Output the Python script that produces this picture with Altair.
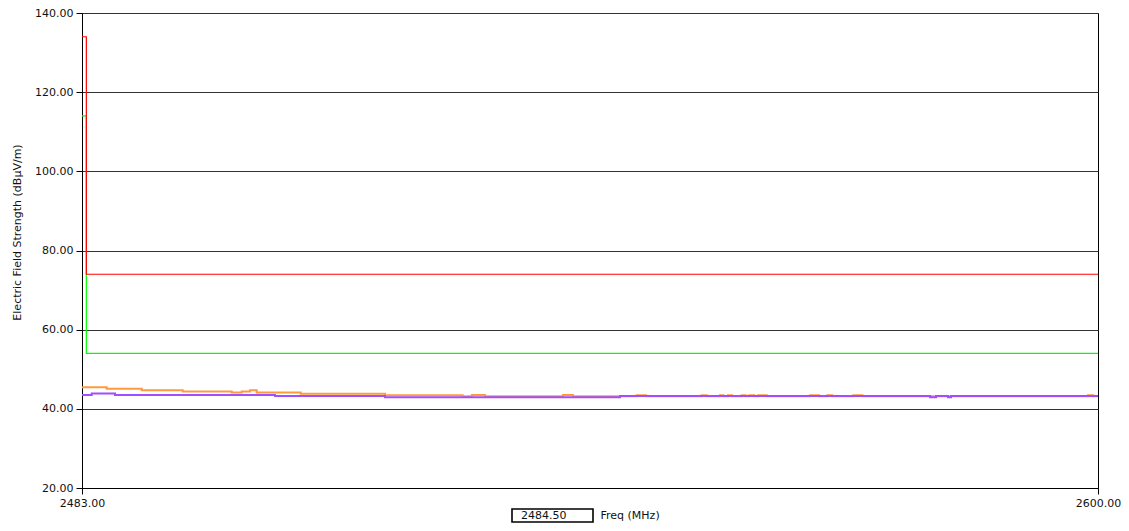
import altair as alt
import pandas as pd

# ---- data ----
freq_domain = [2483.0, 2600.0]
x_tick_values = [2483.0, 2600.0]
y_tick_values = [20, 40, 60, 80, 100, 120, 140]

peak_limit_freq = [2483.0, 2483.5, 2600.0]
peak_limit_val = [134.0, 74.0, 74.0]

avg_limit_freq = [2483.0, 2483.5, 2600.0]
avg_limit_val = [114.0, 54.0, 54.0]

peak_freq = [2483.00, 2485.84, 2489.88, 2494.60, 2500.24, 2501.39, 2502.35, 2503.12,
             2508.19, 2517.89, 2526.84, 2527.91, 2529.41, 2538.39, 2539.54, 2544.96,
             2546.88, 2547.95, 2554.36, 2554.94, 2556.47, 2556.85, 2557.39, 2557.85,
             2558.97, 2559.43, 2559.85, 2560.42, 2560.88, 2561.85, 2566.84, 2567.87,
             2568.83, 2569.40, 2571.82, 2572.86, 2598.85, 2599.43, 2600.00]
peak_val = [45.45, 45.1, 44.7, 44.4, 44.15, 44.4, 44.7, 44.1,
            43.8, 43.45, 43.2, 43.5, 43.2, 43.5, 43.2, 43.2,
            43.45, 43.2, 43.45, 43.2, 43.45, 43.2, 43.45, 43.2,
            43.45, 43.2, 43.45, 43.2, 43.45, 43.2, 43.45, 43.2,
            43.45, 43.2, 43.45, 43.2, 43.45, 43.2, 43.2]

avg_freq = [2483.00, 2484.12, 2486.80, 2505.23, 2517.89, 2544.96,
            2580.66, 2581.35, 2582.73, 2583.07, 2600.00]
avg_val = [43.5, 43.85, 43.5, 43.25, 42.95, 43.25,
           42.95, 43.25, 42.95, 43.25, 43.25]

cursor_freq = [2484.50]

FONT = "DejaVu Sans"
PLOT_H = 475

def series(freqs, vals):
    return pd.DataFrame({"freq": freqs, "val": vals})

x_enc = alt.X(
    "freq:Q",
    scale=alt.Scale(domain=freq_domain, nice=False, zero=False),
    axis=alt.Axis(
        values=x_tick_values, format=".2f", grid=False, tickSize=6,
        tickColor="#000", domainColor="#000", labelColor="#111",
        labelFont=FONT, labelFontSize=11, labelPadding=3, labelFlush=False,
        title="Freq (MHz)", titleFont=FONT, titleFontSize=11, titleFontWeight="normal",
        titleColor="#111", titleX=518, titleY=27.5, titleAlign="left",
        titleBaseline="middle",
    ),
)
y_enc = alt.Y(
    "val:Q",
    scale=alt.Scale(domain=[20, 140], nice=False, zero=False),
    axis=alt.Axis(
        values=y_tick_values, format=".2f", grid=True, gridColor="#333",
        gridWidth=1, tickSize=6, tickColor="#000", domainColor="#000",
        labelColor="#111", labelFont=FONT, labelFontSize=11, labelPadding=3,
        title="Electric Field Strength (dBµV/m)", titleFont=FONT, titleFontSize=11,
        titleFontWeight="normal", titleColor="#111", titleAngle=-90,
        titleX=-60, titleY=219, titleAlign="center", titleBaseline="bottom",
    ),
)

def line(df, color, width):
    return alt.Chart(df).mark_line(
        interpolate="step-after", color=color, strokeWidth=width, clip=True
    ).encode(x=x_enc, y=y_enc)

avg_limit = line(series(avg_limit_freq, avg_limit_val), "#00ff00", 1.2)
peak_limit = line(series(peak_limit_freq, peak_limit_val), "#ff0000", 1.2)
peak_trace = line(series(peak_freq, peak_val), "#ff9a3c", 2)
avg_trace = line(series(avg_freq, avg_val), "#a24dff", 2)

cursor_df = pd.DataFrame({"freq": cursor_freq})
cursor_box = alt.Chart(cursor_df).mark_rect(
    fill="white", stroke="#000", strokeWidth=1.6
).encode(
    x=alt.value(430), x2=alt.value(511), y=alt.value(496), y2=alt.value(509)
)
cursor_text = alt.Chart(cursor_df).mark_text(
    align="left", baseline="middle", font=FONT, fontSize=11, color="#111"
).encode(
    x=alt.value(439), y=alt.value(502.5), text=alt.Text("freq:Q", format=".2f")
)

chart = alt.layer(
    avg_limit, peak_limit, peak_trace, avg_trace, cursor_box, cursor_text
).properties(
    width=1016, height=PLOT_H,
    autosize=alt.AutoSizeParams(type="none"),
    padding={"left": 74, "top": 5, "right": 23, "bottom": 35},
    background="white",
).configure_view(stroke="#000", strokeWidth=1)

chart.save("out.html", embed_options={"renderer": "svg", "actions": False})
